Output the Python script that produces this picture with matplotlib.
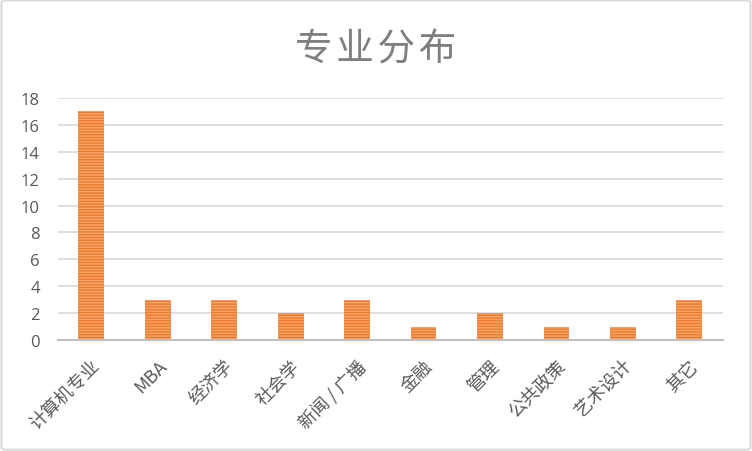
import matplotlib
matplotlib.use('Agg')
import matplotlib.pyplot as plt
from matplotlib.patches import FancyBboxPatch

plt.rcParams['font.family'] = ['Noto Sans CJK SC', 'DejaVu Sans']
plt.rcParams['hatch.linewidth'] = 1.0

# data
categories = ['计算机专业', 'MBA', '经济学', '社会学', '新闻 / 广播', '金融', '管理', '公共政策', '艺术设计', '其它']
counts = [17, 3, 3, 2, 3, 1, 2, 1, 1, 3]
yticks = [0, 2, 4, 6, 8, 10, 12, 14, 16, 18]

fig = plt.figure(figsize=(7.52, 4.52), dpi=100)
fig.patch.set_facecolor('white')

# outer border
border = FancyBboxPatch((0.002, 0.003), 0.996, 0.994, boxstyle='round,pad=0,rounding_size=0.005',
                        transform=fig.transFigure, facecolor='none', edgecolor='#D9D9D9', linewidth=1.5)
fig.patches.append(border)

ax = fig.add_axes([0.077, 0.2456, 0.884, 0.5354])
x = list(range(len(categories)))
ax.bar(x, counts, width=0.39, color='#F6A66E', edgecolor='#EE7A2A', hatch='------', linewidth=0, zorder=3)

ax.set_xlim(-0.5, len(categories) - 0.5)
ax.set_ylim(0, 18)
ax.set_yticks(yticks)
ax.set_yticklabels([str(v) for v in yticks], fontsize=12, color='#595959', family='Open Sans')
ax.set_xticks(x)
ax.set_xticklabels(categories, rotation=45, ha='right', rotation_mode='anchor', fontsize=13,
                   color='#595959', fontweight='light')
ax.tick_params(axis='x', length=0, pad=12)
ax.tick_params(axis='y', length=0, pad=13)

ax.grid(axis='y', color='#D9D9D9', linewidth=1.2, zorder=0)
for s in ['top', 'right', 'left']:
    ax.spines[s].set_visible(False)
ax.spines['bottom'].set_color('#BFBFBF')
ax.spines['bottom'].set_linewidth(1.5)
ax.spines['bottom'].set_zorder(4)

fig.text(0.5, 0.89, '专\u200a业\u200a分\u200a布', ha='center', va='center', fontsize=27, color='#7F7F7F')

fig.savefig('out.png', dpi=100)
